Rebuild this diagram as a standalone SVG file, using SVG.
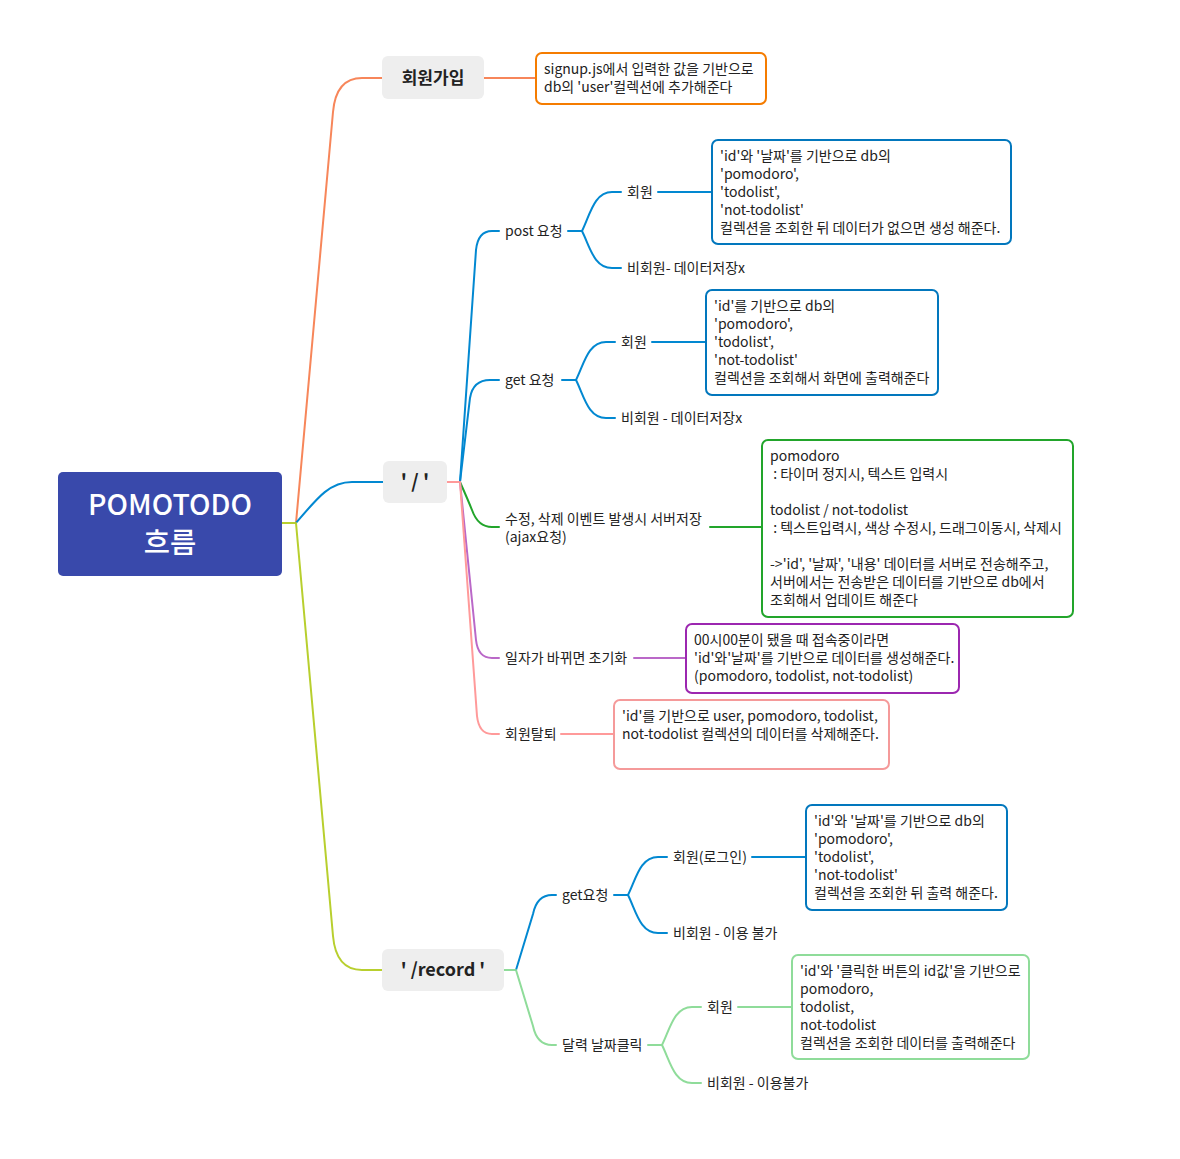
<svg xmlns="http://www.w3.org/2000/svg" width="1180" height="1159" viewBox="0 0 1180 1159">
<style>
text{font-family:"Noto Sans CJK KR","Noto Sans",sans-serif;font-size:14px;fill:#222}
.topic{font-size:17px;font-weight:bold;text-anchor:middle;fill:#222}
.root{font-size:28.5px;font-weight:500;fill:#fff;text-anchor:middle}
.c{fill:none;stroke-width:2;stroke-linecap:round}
.box{fill:#fff;stroke-width:2}
.gray{fill:#eeeeee}
</style>
<rect width="1180" height="1159" fill="#fff"/>
<g id="connectors">
<path class="c" stroke="#b8cf2e" d="M282,523 L296,523"/>
<path class="c" stroke="#f7865a" d="M296,523 L333,112 Q336,78 362,78 L382,78"/>
<path class="c" stroke="#0288d1" d="M296,523 C318,497 330,482 352,482 L383,482"/>
<path class="c" stroke="#b8cf2e" d="M296,523 L333,936 Q336,970 362,970 L382,970"/>
<path class="c" stroke="#f7865a" d="M484,78 L536,78"/>
<path class="c" stroke="#ff9a9a" d="M447,482 L460,482"/>
<path class="c" stroke="#0288d1" d="M460,482 L476,250 Q478,231 492,231 L499,231"/>
<path class="c" stroke="#0288d1" d="M460,482 L470,398 Q473,380 490,380 L499,380"/>
<path class="c" stroke="#22a52b" d="M460,482 Q468,500 472,510 Q478,527 492,527 L499,527"/>
<path class="c" stroke="#ba68c8" d="M460,482 L476,640 Q478,658 492,658 L499,658"/>
<path class="c" stroke="#ff9a9a" d="M460,482 L477,716 Q479,734 492,734 L499,734"/>
<path class="c" stroke="#0288d1" d="M568,231 L582,231"/>
<path class="c" stroke="#0288d1" d="M582,231 C590,215 594,192 612,192 L621,192"/>
<path class="c" stroke="#0288d1" d="M582,231 C590,247 594,268 612,268 L621,268"/>
<path class="c" stroke="#0288d1" d="M658,192 L712,192"/>
<path class="c" stroke="#0288d1" d="M562,380 L576,380"/>
<path class="c" stroke="#0288d1" d="M576,380 C584,364 588,342 606,342 L615,342"/>
<path class="c" stroke="#0288d1" d="M576,380 C584,396 588,418 606,418 L615,418"/>
<path class="c" stroke="#0288d1" d="M652,342 L706,342"/>
<path class="c" stroke="#22a52b" d="M710,527 L762,527"/>
<path class="c" stroke="#ba68c8" d="M634,658 L686,658"/>
<path class="c" stroke="#ff9a9a" d="M561,734 L614,734"/>
<path class="c" stroke="#8fdc9a" d="M504,970 L516,970"/>
<path class="c" stroke="#0288d1" d="M516,970 L533,914 Q537,895 552,895 L556,895"/>
<path class="c" stroke="#8fdc9a" d="M516,970 L533,1026 Q537,1045 552,1045 L556,1045"/>
<path class="c" stroke="#0288d1" d="M614,895 L628,895"/>
<path class="c" stroke="#0288d1" d="M628,895 C636,879 640,857 658,857 L667,857"/>
<path class="c" stroke="#0288d1" d="M628,895 C636,911 640,933 658,933 L667,933"/>
<path class="c" stroke="#0288d1" d="M752,857 L806,857"/>
<path class="c" stroke="#8fdc9a" d="M648,1045 L662,1045"/>
<path class="c" stroke="#8fdc9a" d="M662,1045 C670,1029 674,1007 692,1007 L701,1007"/>
<path class="c" stroke="#8fdc9a" d="M662,1045 C670,1061 674,1083 692,1083 L701,1083"/>
<path class="c" stroke="#8fdc9a" d="M738,1007 L792,1007"/>
</g>
<g id="root">
<rect x="58" y="472" width="224" height="104" rx="5" fill="#3949ab"/>
<text class="root" x="170" y="515">POMOTODO</text>
<text class="root" x="170" y="553">흐름</text>
</g>
<g id="signup">
<rect class="gray" x="382" y="56" width="102" height="43" rx="6"/>
<text class="topic" x="433" y="84">회원가입</text>
</g>
<g id="signup-note">
<rect class="box" x="536" y="53" width="230" height="51" rx="6" stroke="#f57c00"/>
<text x="544" y="74">signup.js에서 입력한 값을 기반으로</text>
<text x="544" y="92">db의 'user'컬렉션에 추가해준다</text>
</g>
<g id="slash">
<rect class="gray" x="383" y="461" width="64" height="42" rx="6"/>
<text class="topic" x="415" y="488" style="font-size:19px">' / '</text>
</g>
<g id="record">
<rect class="gray" x="382" y="949" width="122" height="42" rx="6"/>
<text class="topic" x="443" y="976" style="font-size:18px">' /record '</text>
</g>
<g id="post"><text x="505" y="236">post 요청</text></g>
<g id="post-member"><text x="627" y="197">회원</text></g>
<g id="post-guest"><text x="627" y="273">비회원- 데이터저장x</text></g>
<g id="post-note">
<rect class="box" x="712" y="140" width="299" height="104" rx="6" stroke="#0277bd"/>
<text x="720" y="161">'id'와 '날짜'를 기반으로 db의</text>
<text x="720" y="179">'pomodoro',</text>
<text x="720" y="197">'todolist',</text>
<text x="720" y="215">'not-todolist'</text>
<text x="720" y="233">컬렉션을 조회한 뒤 데이터가 없으면 생성 해준다.</text>
</g>
<g id="get"><text x="505" y="385">get 요청</text></g>
<g id="get-member"><text x="621" y="347">회원</text></g>
<g id="get-guest"><text x="621" y="423">비회원 - 데이터저장x</text></g>
<g id="get-note">
<rect class="box" x="706" y="290" width="232" height="105" rx="6" stroke="#0277bd"/>
<text x="714" y="311">'id'를 기반으로 db의</text>
<text x="714" y="329">'pomodoro',</text>
<text x="714" y="347">'todolist',</text>
<text x="714" y="365">'not-todolist'</text>
<text x="714" y="383">컬렉션을 조회해서 화면에 출력해준다</text>
</g>
<g id="edit">
<text x="505" y="524">수정, 삭제 이벤트 발생시 서버저장</text>
<text x="505" y="542">(ajax요청)</text>
</g>
<g id="edit-note">
<rect class="box" x="762" y="440" width="311" height="177" rx="6" stroke="#22a52b"/>
<text x="770" y="461">pomodoro</text>
<text x="770" y="479" xml:space="preserve"> : 타이머 정지시, 텍스트 입력시</text>
<text x="770" y="515">todolist / not-todolist</text>
<text x="770" y="533" xml:space="preserve"> : 텍스트입력시, 색상 수정시, 드래그이동시, 삭제시</text>
<text x="770" y="569">-&gt;'id', '날짜', '내용' 데이터를 서버로 전송해주고,</text>
<text x="770" y="587">서버에서는 전송받은 데이터를 기반으로 db에서</text>
<text x="770" y="605">조회해서 업데이트 해준다</text>
</g>
<g id="reset"><text x="505" y="663">일자가 바뀌면 초기화</text></g>
<g id="reset-note">
<rect class="box" x="686" y="624" width="273" height="69" rx="6" stroke="#9c27b0"/>
<text x="694" y="645">00시00분이 됐을 때 접속중이라면</text>
<text x="694" y="663">'id'와'날짜'를 기반으로 데이터를 생성해준다.</text>
<text x="694" y="681">(pomodoro, todolist, not-todolist)</text>
</g>
<g id="withdraw"><text x="505" y="739">회원탈퇴</text></g>
<g id="withdraw-note">
<rect class="box" x="614" y="700" width="275" height="69" rx="6" stroke="#f59a9a"/>
<text x="622" y="721">'id'를 기반으로 user, pomodoro, todolist,</text>
<text x="622" y="739">not-todolist 컬렉션의 데이터를 삭제해준다.</text>
</g>
<g id="rget"><text x="562" y="900">get요청</text></g>
<g id="rget-member"><text x="673" y="862">회원(로그인)</text></g>
<g id="rget-guest"><text x="673" y="938">비회원 - 이용 불가</text></g>
<g id="rget-note">
<rect class="box" x="806" y="805" width="201" height="105" rx="6" stroke="#0277bd"/>
<text x="814" y="826">'id'와 '날짜'를 기반으로 db의</text>
<text x="814" y="844">'pomodoro',</text>
<text x="814" y="862">'todolist',</text>
<text x="814" y="880">'not-todolist'</text>
<text x="814" y="898">컬렉션을 조회한 뒤 출력 해준다.</text>
</g>
<g id="cal"><text x="562" y="1050">달력 날짜클릭</text></g>
<g id="cal-member"><text x="707" y="1012">회원</text></g>
<g id="cal-guest"><text x="707" y="1088">비회원 - 이용불가</text></g>
<g id="cal-note">
<rect class="box" x="792" y="955" width="237" height="104" rx="6" stroke="#8fdc9a"/>
<text x="800" y="976">'id'와 '클릭한 버튼의 id값'을 기반으로</text>
<text x="800" y="994">pomodoro,</text>
<text x="800" y="1012">todolist,</text>
<text x="800" y="1030">not-todolist</text>
<text x="800" y="1048">컬렉션을 조회한 데이터를 출력해준다</text>
</g>
</svg>
